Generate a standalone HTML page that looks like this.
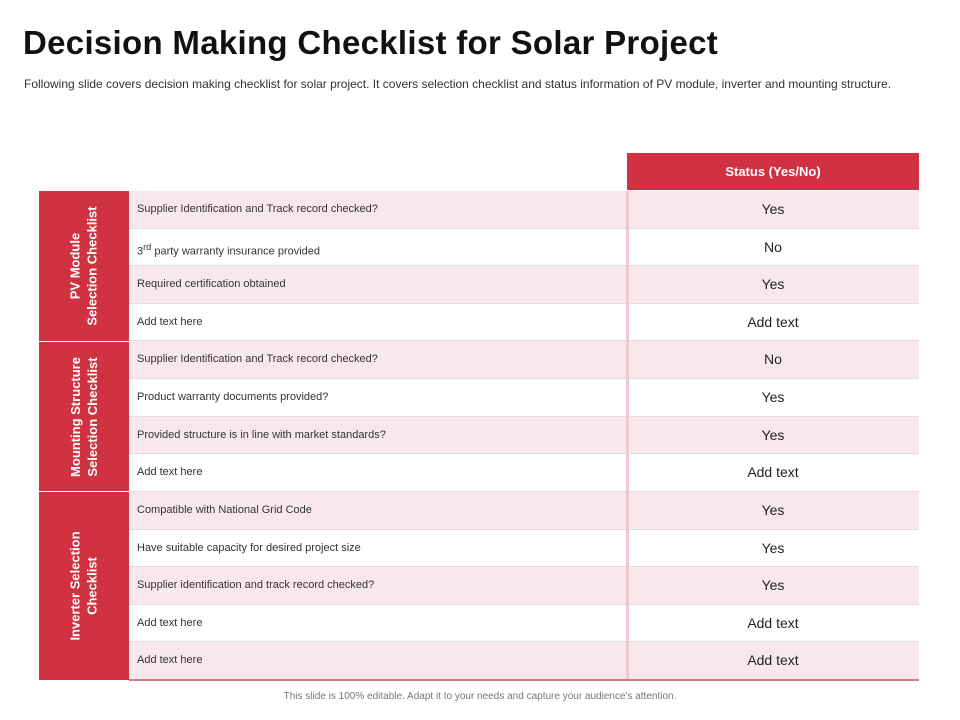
<!DOCTYPE html>
<html><head><meta charset="utf-8"><style>
body{margin:0;width:960px;height:720px;background:#fff;font-family:"Liberation Sans",sans-serif;position:relative;overflow:hidden}
.a{position:absolute}
h1{position:absolute;left:23px;top:24px;margin:0;font-size:33px;font-weight:bold;color:#111;letter-spacing:0.3px}
.sub{left:24px;top:77px;width:880px;font-size:12px;color:#333;line-height:14px}
.row{position:absolute;left:129px;width:790px;height:37px;border-bottom:1px solid #e3dcdd}
.row .t{position:absolute;left:8px;top:0;line-height:37px;font-size:11px;color:#333}
.row .s{position:absolute;left:498px;width:292px;top:0;line-height:37px;text-align:center;font-size:14px;color:#222}
.pink{background:#f9e8eb}
.band{position:absolute;left:39px;width:90px;background:#d13241;color:#fff;font-weight:bold;font-size:13px;display:flex;align-items:center;justify-content:center}
.band span{transform:rotate(-90deg);white-space:nowrap;text-align:center;line-height:17px}
</style></head><body>
<h1>Decision Making Checklist for Solar Project</h1>
<div class="a sub">Following slide covers decision making checklist for solar project. It covers selection checklist and status information of PV module, inverter and mounting structure.</div>
<div class="a" style="left:627px;top:153px;width:292px;height:37px;background:#d13241;color:#fff;font-weight:bold;font-size:13px;line-height:37px;text-align:center">Status (Yes/No)</div>
<div id="rows"></div>
<div class="band" style="top:191px;height:150px;border-bottom:1px solid #fff"><span>PV Module<br>Selection Checklist</span></div>
<div class="band" style="top:342px;height:149px;border-bottom:1px solid #fff"><span>Mounting Structure<br>Selection Checklist</span></div>
<div class="band" style="top:492px;height:188px"><span>Inverter Selection<br>Checklist</span></div>
<div class="a" style="left:626px;top:191px;width:3px;height:489px;background:#efc9cf"></div>
<div class="a" style="left:129px;top:679px;width:790px;height:2px;background:#d87a85"></div>
<div class="a" style="left:0;width:960px;top:691px;text-align:center;font-size:10px;color:#777">This slide is 100% editable. Adapt it to your needs and capture your audience's attention.</div>
<script>
const items=["Supplier Identification and Track record checked?","3<sup>rd</sup> party warranty insurance provided","Required certification obtained","Add text here","Supplier Identification and Track record checked?","Product warranty documents provided?","Provided structure is in line with market standards?","Add text here","Compatible with National Grid Code","Have suitable capacity for desired  project size","Supplier identification and track record checked?","Add text here","Add text here"];
const statuses=["Yes","No","Yes","Add text","No","Yes","Yes","Add text","Yes","Yes","Yes","Add text","Add text"];
const c=document.getElementById('rows');
const top0=191,h=(680-191)/13;
items.forEach((t,i)=>{
const r=document.createElement('div');
r.className='row'+(i%2==0?' pink':'');
r.style.top=(top0+i*h)+'px';r.style.height=(h-1)+'px';


r.innerHTML='<div class="t" style="line-height:'+(h-1)+'px">'+t+'</div><div class="s" style="line-height:'+(h-1)+'px">'+statuses[i]+'</div>';
c.appendChild(r);
});
</script>
</body></html>
